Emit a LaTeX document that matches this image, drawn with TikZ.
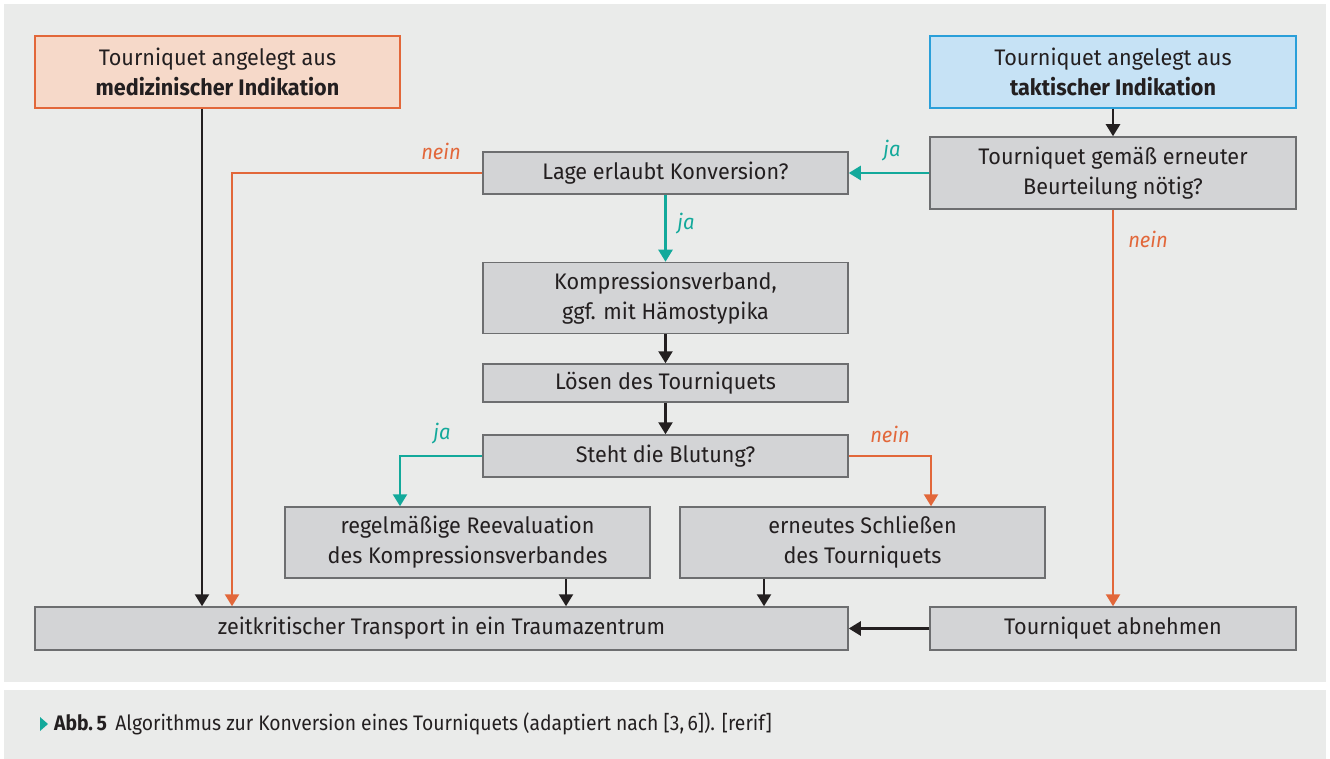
\documentclass[tikz,border=0pt]{standalone}
\usepackage{fontspec}
\setmainfont{Fira Sans}[FakeStretch=0.96]
\newfontfamily\capfont{Fira Sans}[FakeStretch=0.92]
\usetikzlibrary{arrows.meta}
\definecolor{bgc}{HTML}{EAEBEA}
\definecolor{boxc}{HTML}{D3D4D6}
\definecolor{boxd}{HTML}{6D6E70}
\definecolor{orf}{HTML}{F6D9C9}
\definecolor{ord}{HTML}{E2673A}
\definecolor{blf}{HTML}{C6E2F5}
\definecolor{bld}{HTML}{2A9FD9}
\definecolor{teal}{HTML}{13A99B}
\definecolor{txt}{HTML}{231F20}
\tikzset{
  box/.style={draw=boxd, fill=boxc, line width=1.5pt, align=center, inner sep=0pt,
    text=txt, font=\fontsize{22.5}{30}\selectfont},
  obox/.style={box, draw=ord, fill=orf},
  bbox/.style={box, draw=bld, fill=blf},
  conn/.style={line width=2.4pt, -{Triangle[width=14pt,length=12pt]}},
  blk/.style={conn, draw=txt},
  tl/.style={conn, draw=teal, -{Triangle[width=14pt,length=12pt,fill=teal]}},
  orl/.style={conn, draw=ord, -{Triangle[width=14pt,length=12pt,fill=ord]}},
  lbl/.style={font=\fontsize{21}{24}\selectfont\itshape, inner sep=0pt},
}
\begin{document}
\begin{tikzpicture}[x=1pt,y=-1pt]
\useasboundingbox (0,0) rectangle (1330,759);
\fill[white] (0,0) rectangle (1330,759);
\fill[bgc] (4,4) rectangle (1326,682);
\fill[bgc] (4,690) rectangle (1326,759);

\node[obox, minimum width=365pt, minimum height=72pt] (med) at (217.5,72) {Tourniquet angelegt aus\\\textbf{medizinischer Indikation}};
\node[bbox, minimum width=366pt, minimum height=72pt] (takt) at (1113,72) {Tourniquet angelegt aus\\\textbf{taktischer Indikation}};
\node[box, minimum width=366pt, minimum height=72pt] (gem) at (1113,173) {Tourniquet gemäß erneuter\\Beurteilung nötig?};
\node[box, minimum width=365pt, minimum height=42pt] (lage) at (665.5,173) {Lage erlaubt Konversion?};
\node[box, minimum width=365pt, minimum height=71pt] (komp) at (665.5,298) {Kompressionsverband,\\ggf. mit Hämostypika};
\node[box, minimum width=365pt, minimum height=38pt] (loes) at (665.5,383) {Lösen des Tourniquets};
\node[box, minimum width=365pt, minimum height=42pt] (steht) at (665.5,456) {Steht die Blutung?};
\node[box, minimum width=365pt, minimum height=71pt] (regel) at (467.5,542.5) {regelmäßige Reevaluation\\des Kompressionsverbandes};
\node[box, minimum width=365pt, minimum height=71pt] (ern) at (862.5,542.5) {erneutes Schließen\\des Tourniquets};
\node[box, minimum width=813pt, minimum height=43pt] (zeit) at (441.5,628.5) {zeitkritischer Transport in ein Traumazentrum};
\node[box, minimum width=366pt, minimum height=43pt] (abn) at (1113,628.5) {Tourniquet abnehmen};

% connectors
\draw[blk] (med.south -| 202,0) -- (zeit.north -| 202,0);
\draw[blk] (takt) -- (gem);
\draw[tl] (gem.west) -- (lage.east);
\draw[orl] (lage.west) -| (zeit.north -| 232,0);
\draw[tl] (lage) -- (komp);
\draw[blk] (komp) -- (loes);
\draw[blk] (loes) -- (steht);
\draw[tl] (steht.west) -| (regel.north -| 400,0);
\draw[orl] (steht.east) -| (ern.north -| 931,0);
\draw[blk] (regel.south -| 566,0) -- (zeit.north -| 566,0);
\draw[blk] (ern.south -| 764,0) -- (zeit.north -| 764,0);
\draw[orl] (gem) -- (abn);
\draw[blk] (abn.west) -- (zeit.east);

% labels
\node[lbl, text=ord] (l1) at (441,151) {nein};
\node[lbl, text=teal] (l2) at (892,151) {ja};
\node[lbl, text=teal] (l3) at (686,224) {ja};
\node[lbl, text=ord] (l4) at (1148,239) {nein};
\node[lbl, text=teal] (l5) at (442,434) {ja};
\node[lbl, text=ord] (l6) at (890,434) {nein};

% caption
\fill[teal] (40,717) -- (48,724) -- (40,731) -- cycle;
\node[anchor=west, inner sep=0pt, text=txt, font=\capfont\fontsize{21}{24}\selectfont] (cap) at (54,724) {\textbf{Abb.\,5}\hspace{0.4em}Algorithmus zur Konversion eines Tourniquets (adaptiert nach [3,\,6]). [rerif]};
\end{tikzpicture}
\end{document}
